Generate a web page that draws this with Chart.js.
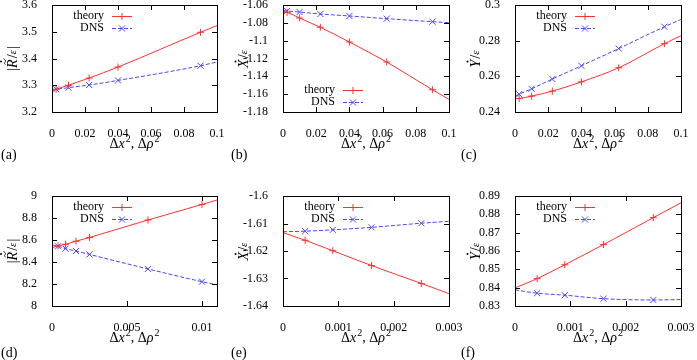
<!DOCTYPE html>
<html lang="en">
<head>
<meta charset="UTF-8">
<title>Theory vs DNS</title>
<script src="https://cdn.jsdelivr.net/npm/chart.js@4"></script>
<style>
  body { margin: 0; background: #fff; font-family: "Liberation Serif", "DejaVu Serif", serif; }
  #fig { position: relative; width: 697px; height: 360px; overflow: hidden; }
  .panel { position: absolute; }
  #warm { position: absolute; left: -999px; top: 0; font-family: "Liberation Serif"; }
  #warm i { font-style: italic; }
</style>
</head>
<body>
<div id="fig">
  <canvas class="panel" id="pa" style="left:0;top:0"></canvas>
  <canvas class="panel" id="pb" style="left:230px;top:0"></canvas>
  <canvas class="panel" id="pc" style="left:460px;top:0"></canvas>
  <canvas class="panel" id="pd" style="left:0;top:180px"></canvas>
  <canvas class="panel" id="pe" style="left:230px;top:180px"></canvas>
  <canvas class="panel" id="pf" style="left:460px;top:180px"></canvas>
</div>
<div id="warm">theory DNS 0.1 <i>xRXYερ</i></div>

<script>
// ---- data (first and last entries are where the curves meet the frame) ----
const xA = [0, 0.0025, 0.01, 0.0225, 0.04, 0.09, 0.1];
const theoryA = [3.279, 3.285, 3.300, 3.327, 3.368, 3.498, 3.523];
const dnsA = [3.283, 3.285, 3.291, 3.301, 3.318, 3.373, 3.387];

const xBC = [0, 0.0025, 0.01, 0.0225, 0.04, 0.0625, 0.09, 0.1];
const theoryB = [-1.0671, -1.0682, -1.0746, -1.085, -1.1015, -1.124, -1.155, -1.1658];
const dnsB = [-1.0664, -1.0667, -1.0679, -1.0701, -1.0723, -1.0753, -1.0787, -1.0798];
const theoryC = [0.2474, 0.2476, 0.2489, 0.2517, 0.2569, 0.2648, 0.2783, 0.2828];
const dnsC = [0.2489, 0.2500, 0.2530, 0.2585, 0.2659, 0.2756, 0.2878, 0.2919];

const xD = [0, 0.0004, 0.0009, 0.0016, 0.0025, 0.0064, 0.01, 0.011];
const theoryD = [8.531, 8.546, 8.561, 8.589, 8.623, 8.782, 8.923, 8.963];
const dnsD = [8.555, 8.543, 8.521, 8.500, 8.469, 8.337, 8.221, 8.193];

const xEF = [0, 0.0004, 0.0009, 0.0016, 0.0025, 0.003];
const theoryE = [-1.6133, -1.6161, -1.6199, -1.6253, -1.6318, -1.6355];
const dnsE = [-1.6130, -1.6128, -1.6123, -1.6114, -1.6099, -1.6092];
const theoryF = [0.8399, 0.8449, 0.8525, 0.8635, 0.8782, 0.8863];
const dnsF = [0.8388, 0.8370, 0.8359, 0.8340, 0.8333, 0.8335];

// ---- tick labels ----
const xTicks1 = [0, 0.02, 0.04, 0.06, 0.08, 0.1];
const xTicksD = [0, 0.005, 0.01];
const xTicks2 = [0, 0.001, 0.002, 0.003];
const yTicksA = [3.2, 3.3, 3.4, 3.5, 3.6];
const yTicksB = [-1.18, -1.16, -1.14, -1.12, -1.1, -1.08, -1.06];
const yTicksC = [0.24, 0.26, 0.28, 0.3];
const yTicksD = [8, 8.2, 8.4, 8.6, 8.8, 9];
const yTicksE = [-1.64, -1.63, -1.62, -1.61, -1.6];
const yTicksF = [0.83, 0.84, 0.85, 0.86, 0.87, 0.88, 0.89];

const seriesNames = ['theory', 'DNS'];

const SERIF = '"Liberation Serif", "DejaVu Serif", serif';
const RED = '#ff3030';
const BLUE = '#4646ff';

// rich text pieces for axis titles
const X_TITLE = [
  { t: 'Δ' }, { t: 'x', i: 1 }, { t: '2', sup: 1 },
  { t: ', Δ' }, { t: 'ρ', i: 1 }, { t: '2', sup: 1 }
];
const R_TITLE = [{ t: '|' }, { t: 'R', i: 1, tilde: 1, dot: 1 }, { t: '/' }, { t: 'ε', i: 1, s: 11 }, { t: '|' }];
const X_DOT_TITLE = [{ t: 'X', i: 1, dot: 1 }, { t: '/' }, { t: 'ε', i: 1, s: 11 }];
const Y_DOT_TITLE = [{ t: 'Y', i: 1, dot: 1 }, { t: '/' }, { t: 'ε', i: 1, s: 11 }];

function fontOf(p) {
  const size = p.sup ? 10 : (p.s || 14);
  return (p.i ? 'italic ' : '') + size + 'px ' + SERIF;
}

function drawRich(ctx, parts, cx, cy) {
  ctx.textBaseline = 'middle';
  ctx.textAlign = 'left';
  let w = 0;
  parts.forEach(p => { ctx.font = fontOf(p); w += ctx.measureText(p.t).width + (p.i ? 1 : 0); });
  let x = cx - w / 2;
  parts.forEach(p => {
    ctx.font = fontOf(p);
    const pw = ctx.measureText(p.t).width + (p.i ? 1 : 0);
    ctx.fillText(p.t, x, cy + (p.sup ? -5 : 0));
    const mid = x + pw / 2 + 1.5;
    if (p.tilde) {
      ctx.beginPath();
      ctx.lineWidth = 0.9;
      ctx.moveTo(mid - 3, cy - 7.5);
      ctx.bezierCurveTo(mid - 1.5, cy - 10, mid - 0.5, cy - 7, mid + 1, cy - 7.5);
      ctx.bezierCurveTo(mid + 2, cy - 8, mid + 2.5, cy - 9.5, mid + 3, cy - 9.5);
      ctx.stroke();
    }
    if (p.dot) {
      ctx.beginPath();
      ctx.arc(mid, cy - (p.tilde ? 12 : 8.5), 1, 0, Math.PI * 2);
      ctx.fill();
    }
    x += pw;
  });
}

// frame, inward ticks, key and titles in the gnuplot manner
const gnuplotLook = {
  id: 'gnuplotLook',
  afterDatasetsDraw(chart, args, opts) {
    const ctx = chart.ctx, a = chart.chartArea;
    const xs = chart.scales.x, ys = chart.scales.y;
    ctx.save();
    ctx.strokeStyle = '#000';
    ctx.fillStyle = '#000';
    ctx.lineWidth = 1;
    ctx.beginPath();
    xs.ticks.forEach(t => {
      const px = Math.round(xs.getPixelForValue(t.value)) + 0.5;
      ctx.moveTo(px, a.bottom); ctx.lineTo(px, a.bottom - 5);
      ctx.moveTo(px, a.top); ctx.lineTo(px, a.top + 5);
    });
    ys.ticks.forEach(t => {
      const py = Math.round(ys.getPixelForValue(t.value)) + 0.5;
      ctx.moveTo(a.left, py); ctx.lineTo(a.left + 5, py);
      ctx.moveTo(a.right, py); ctx.lineTo(a.right - 5, py);
    });
    ctx.stroke();
    ctx.strokeRect(Math.round(a.left) + 0.5, Math.round(a.top) + 0.5,
      Math.round(a.right - a.left), Math.round(a.bottom - a.top));

    // key
    chart.data.datasets.forEach((ds, i) => {
      const y = opts.legend === 'top' ? a.top + 11 + 12 * i : a.bottom - 22 + 12 * i;
      ctx.font = '12px ' + SERIF;
      ctx.textAlign = 'right';
      ctx.textBaseline = 'middle';
      ctx.fillStyle = '#000';
      ctx.fillText(ds.label, a.left + 52, y);
      ctx.strokeStyle = ds.borderColor;
      ctx.lineWidth = 1;
      ctx.setLineDash(ds.borderDash || []);
      ctx.beginPath();
      ctx.moveTo(a.left + 60, y + 0.5); ctx.lineTo(a.left + 80, y + 0.5);
      ctx.stroke();
      ctx.setLineDash([]);
      Chart.helpers.drawPoint(ctx, {
        pointStyle: ds.pointStyle, radius: ds.keyRadius, rotation: 0, borderWidth: 1
      }, a.left + 70, y + 0.5);
    });

    // axis titles
    ctx.fillStyle = '#000';
    ctx.strokeStyle = '#000';
    drawRich(ctx, X_TITLE, (a.left + a.right) / 2, a.bottom + 32);
    ctx.save();
    ctx.translate(a.left - 39, (a.top + a.bottom) / 2);
    ctx.rotate(-Math.PI / 2);
    drawRich(ctx, opts.yTitle, 0, 0);
    ctx.restore();

    // panel tag
    ctx.font = '14px ' + SERIF;
    ctx.textAlign = 'left';
    ctx.textBaseline = 'middle';
    ctx.fillText(opts.tag, 1, opts.tagY);
    ctx.restore();
  }
};

const fmt = v => String(+Number(v).toFixed(6));

function makeDataset(label, xs, ys, color, style, r, dash) {
  return {
    label: label,
    data: xs.map((x, i) => ({ x: x, y: ys[i] })),
    showLine: true,
    borderColor: color,
    backgroundColor: color,
    borderWidth: 1,
    borderDash: dash,
    pointStyle: style,
    pointBorderWidth: 1,
    keyRadius: r,
    pointRadius: xs.map((_, i) => (i === 0 || i === xs.length - 1) ? 0 : r),
    cubicInterpolationMode: 'monotone'
  };
}

function panel(id, p) {
  const canvas = document.getElementById(id);
  canvas.width = p.w; canvas.height = p.h;
  canvas.style.width = p.w + 'px'; canvas.style.height = p.h + 'px';
  const tickFont = { family: SERIF, size: 12 };
  const zeroPad = s => { s.paddingTop = s.paddingBottom = s.paddingLeft = s.paddingRight = 0; };
  new Chart(canvas, {
    type: 'scatter',
    data: {
      datasets: [
        makeDataset(seriesNames[0], p.x, p.theory, RED, 'cross', 3.5, []),
        makeDataset(seriesNames[1], p.x, p.dns, BLUE, 'crossRot', 4.3, [4, 2])
      ]
    },
    options: {
      responsive: false,
      animation: false,
      events: [],
      layout: { padding: { top: p.top, right: p.right, left: 0, bottom: 0 } },
      scales: {
        x: {
          type: 'linear',
          min: p.xTicks[0],
          max: p.xMax,
          afterBuildTicks: s => { s.ticks = p.xTicks.map(v => ({ value: v })); },
          afterFit: s => { s.height = p.xh; zeroPad(s); },
          grid: { display: false },
          border: { display: false },
          ticks: { font: tickFont, color: '#000', padding: 7, maxRotation: 0, autoSkip: false, callback: fmt }
        },
        y: {
          type: 'linear',
          min: p.yTicks[0],
          max: p.yTicks[p.yTicks.length - 1],
          afterBuildTicks: s => { s.ticks = p.yTicks.map(v => ({ value: v })); },
          afterFit: s => { s.width = p.left; zeroPad(s); },
          grid: { display: false },
          border: { display: false },
          ticks: { font: tickFont, color: '#000', padding: 7, autoSkip: false, callback: fmt }
        }
      },
      plugins: {
        legend: { display: false },
        tooltip: { enabled: false },
        gnuplotLook: { legend: p.legend, yTitle: p.yTitle, tag: p.tag, tagY: p.tagY }
      }
    },
    plugins: [gnuplotLook]
  });
}

function drawAll() {
  Chart.defaults.font.family = SERIF;
  panel('pa', { w: 230, h: 180, left: 52, right: 13, top: 5, xh: 68, x: xA, theory: theoryA, dns: dnsA,
    xTicks: xTicks1, xMax: 0.1, yTicks: yTicksA, legend: 'top', yTitle: R_TITLE, tag: '(a)', tagY: 155 });
  panel('pb', { w: 240, h: 180, left: 53, right: 21, top: 5, xh: 68, x: xBC, theory: theoryB, dns: dnsB,
    xTicks: xTicks1, xMax: 0.1, yTicks: yTicksB, legend: 'bottom', yTitle: X_DOT_TITLE, tag: '(b)', tagY: 155 });
  panel('pc', { w: 237, h: 180, left: 55, right: 16, top: 5, xh: 68, x: xBC, theory: theoryC, dns: dnsC,
    xTicks: xTicks1, xMax: 0.1, yTicks: yTicksC, legend: 'top', yTitle: Y_DOT_TITLE, tag: '(c)', tagY: 155 });
  panel('pd', { w: 230, h: 180, left: 52, right: 13, top: 16, xh: 54, x: xD, theory: theoryD, dns: dnsD,
    xTicks: xTicksD, xMax: 0.011, yTicks: yTicksD, legend: 'top', yTitle: R_TITLE, tag: '(d)', tagY: 173 });
  panel('pe', { w: 240, h: 180, left: 53, right: 21, top: 16, xh: 54, x: xEF, theory: theoryE, dns: dnsE,
    xTicks: xTicks2, xMax: 0.003, yTicks: yTicksE, legend: 'top', yTitle: X_DOT_TITLE, tag: '(e)', tagY: 173 });
  panel('pf', { w: 237, h: 180, left: 55, right: 16, top: 16, xh: 54, x: xEF, theory: theoryF, dns: dnsF,
    xTicks: xTicks2, xMax: 0.003, yTicks: yTicksF, legend: 'top', yTitle: Y_DOT_TITLE, tag: '(f)', tagY: 173 });
}

Promise.all([
  document.fonts.load('12px "Liberation Serif"'),
  document.fonts.load('italic 14px "Liberation Serif"')
]).then(drawAll, drawAll);
</script>
</body>
</html>
